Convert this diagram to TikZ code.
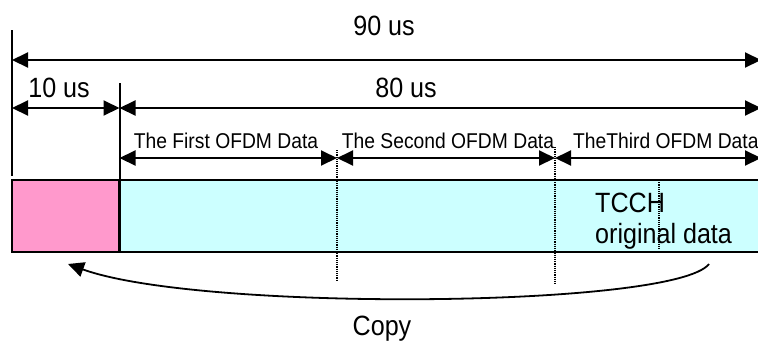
\documentclass[tikz,border=0pt]{standalone}
\usepackage{fontspec}
\setmainfont{Liberation Sans}[FakeStretch=0.9]
\usetikzlibrary{arrows.meta}
\definecolor{gipink}{HTML}{FF99CC}
\definecolor{datacyan}{HTML}{CCFFFF}
\tikzset{
  span/.style={line width=2bp, {Triangle[length=16bp,width=15bp]}-{Triangle[length=16bp,width=15bp]}},
  tick/.style={line width=2bp},
  cut/.style={line width=1.2bp, densely dotted},
  big/.style={font=\fontsize{28}{30}\selectfont, inner sep=0pt, anchor=base},
  small/.style={font=\fontsize{21.5}{24}\selectfont, inner sep=0pt, anchor=base},
}
\begin{document}
\begin{tikzpicture}[x=1bp, y=-1bp]
      \useasboundingbox (0,0) rectangle (758,345);
      \fill[gipink] (12,180) rectangle (119.5,252);
      \fill[datacyan] (119.5,180) rectangle (770,252);
      \draw[line width=2.2bp] (770,180) -- (12,180) -- (12,252) -- (770,252);
      \draw[line width=2.2bp] (119.5,180) -- (119.5,252);
      \coordinate (V0) at (12,30);
      \coordinate (V1) at (12,176);
      \coordinate (W0) at (119.5,83);
      \coordinate (W1) at (119.5,180);
      \coordinate (A0) at (12,60);
      \coordinate (A1) at (761,60);
      \coordinate (B0) at (12,108);
      \coordinate (B1) at (119.5,108);
      \coordinate (B2) at (761,108);
      \coordinate (C0) at (119.5,158);
      \coordinate (C1) at (337,158);
      \coordinate (C2) at (555,158);
      \coordinate (C3) at (761,158);
      \coordinate (D1) at (337,280);
      \coordinate (D2) at (555,285);
      \coordinate (E0) at (337,150);
      \coordinate (E1) at (555,147);
      \coordinate (F0) at (659,180);
      \coordinate (F1) at (659,250);
      \coordinate (K0) at (709,264);
      \coordinate (K1) at (68,264);
      \node[big] (L90) at (384,35) {90 us};
      \node[big] (L10) at (59,97) {10 us};
      \node[big] (L80) at (406,97) {80 us};
      \node[small] (S1) at (226,148) {The First OFDM Data};
      \node[small] (S2) at (448,148) {The Second OFDM Data};
      \node[small, anchor=base west] (S3) at (573,148) {TheThird OFDM Data};
      \node[big, anchor=base west] (TC) at (595,212) {TCCH};
      \node[big, anchor=base west] (OD) at (595,243) {original data};
      \node[big] (CP) at (382,335) {Copy};
      \draw[tick] (V0) -- (V1);
      \draw[tick] (W0) -- (W1);
      \draw[span] (A0) -- (A1);
      \draw[span] (B0) -- (B1);
      \draw[span] (B1) -- (B2);
      \draw[span] (C0) -- (C1);
      \draw[span] (C1) -- (C2);
      \draw[span] (C2) -- (C3);
      \draw[cut] (E0) -- (D1);
      \draw[cut] (E1) -- (D2);
      \draw[cut] (F0) -- (F1);
      \draw[line width=1.8bp, -{Triangle[length=16bp,width=15bp]}] (K0) .. controls (675,308) and (200,312) .. (K1);
   \end{tikzpicture}
\end{document}
